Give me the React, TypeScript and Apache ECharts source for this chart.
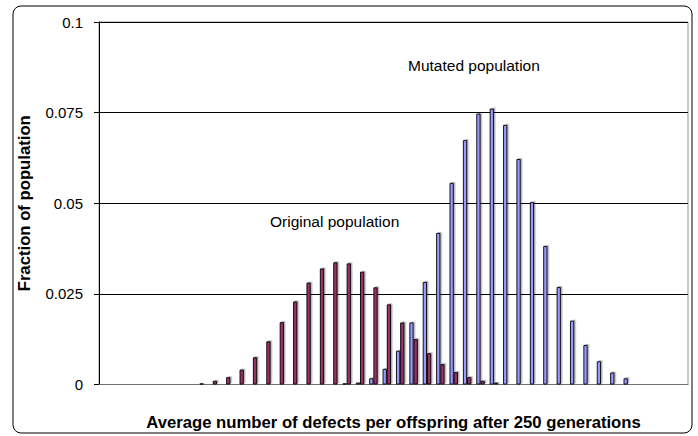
import React, { useEffect, useRef } from "react";
import * as echarts from "echarts";

// Category index (average number of defects per offspring, bins)
const categories: string[] = Array.from({ length: 44 }, (_, i) => String(i));

// Fraction of population per bin
const mutatedPopulation: number[] = [
  0, 0, 0, 0, 0, 0, 0, 0, 0, 0,
  0, 0, 0, 0, 0, 0, 0, 0, 0.0003, 0.0005,
  0.0017, 0.0043, 0.0093, 0.0171, 0.0283, 0.0418, 0.0556, 0.0674, 0.0747, 0.0761,
  0.0716, 0.0622, 0.0503, 0.0382, 0.0269, 0.0176, 0.0109, 0.0064, 0.0033, 0.0017,
  0, 0, 0, 0,
];

const originalPopulation: number[] = [
  0, 0, 0, 0, 0, 0, 0.0002, 0.0003, 0.001, 0.002,
  0.0041, 0.0075, 0.0119, 0.0172, 0.0229, 0.0281, 0.032, 0.0337, 0.0334, 0.0311,
  0.0268, 0.0221, 0.0171, 0.0125, 0.0086, 0.0056, 0.0034, 0.002, 0.001, 0.0005,
  0.0002, 0.0001, 0, 0, 0, 0, 0, 0, 0, 0,
  0, 0, 0, 0,
];

const yTicks: number[] = [0, 0.025, 0.05, 0.075, 0.1];

const FONT = "'Liberation Sans', Arial, sans-serif";

export default function App() {
  const ref = useRef<HTMLDivElement>(null);

  useEffect(() => {
    if (!ref.current) return;
    const chart = echarts.init(ref.current, undefined, { renderer: "svg" });
    const barStyle = (color: string) => ({
      color,
      borderColor: "#000",
      borderWidth: 0.9,
      shadowColor: "rgba(0,0,0,0.3)",
      shadowOffsetX: 1.5,
      shadowOffsetY: -1,
      shadowBlur: 0,
    });
    chart.setOption({
      animation: false,
      backgroundColor: "#fff",
      textStyle: { fontFamily: FONT },
      grid: {
        left: 99,
        right: 10,
        top: 22,
        bottom: 49.5,
        show: true,
        borderColor: "#909090",
        borderWidth: 1,
        backgroundColor: "transparent",
      },
      xAxis: {
        type: "category",
        data: categories,
        boundaryGap: true,
        axisLine: { show: true, lineStyle: { color: "#707070", width: 1 } },
        axisTick: { show: false },
        axisLabel: { show: false },
        splitLine: { show: false },
        name: "Average number of defects per offspring after 250 generations",
        nameLocation: "middle",
        nameGap: 29.5,
        nameTextStyle: {
          fontFamily: FONT,
          fontSize: 16.7,
          fontWeight: "bold",
          color: "#000",
        },
      },
      yAxis: {
        type: "value",
        min: yTicks[0],
        max: yTicks[yTicks.length - 1],
        interval: 0.025,
        axisLine: { show: true, lineStyle: { color: "#000", width: 1 } },
        axisTick: { show: true, length: 5, inside: false, lineStyle: { color: "#000" } },
        axisLabel: {
          margin: 16,
          fontFamily: FONT,
          fontSize: 15,
          color: "#000",
          formatter: (v: number) => String(parseFloat(v.toFixed(3))),
        },
        splitLine: { show: true, lineStyle: { color: "#000", width: 1 } },
        name: "Fraction of population",
        nameLocation: "middle",
        nameGap: 66,
        nameTextStyle: {
          fontFamily: FONT,
          fontSize: 16.7,
          fontWeight: "bold",
          color: "#000",
        },
      },
      series: [
        {
          name: "Mutated population",
          type: "bar",
          data: mutatedPopulation.map((v) => (v === 0 ? null : v)),
          barWidth: 4.2,
          barGap: "0%",
          itemStyle: barStyle("#9999FF"),
        },
        {
          name: "Original population",
          type: "bar",
          data: originalPopulation.map((v) => (v === 0 ? null : v)),
          barWidth: 4.2,
          barGap: "0%",
          itemStyle: barStyle("#993366"),
        },
      ],
      graphic: [
        {
          type: "rect",
          shape: { x: 13, y: 6, width: 679, height: 427, r: 8 },
          style: { fill: "none", stroke: "#000", lineWidth: 1 },
          silent: true,
          z: 100,
        },
        {
          type: "text",
          x: 408,
          y: 65,
          style: {
            text: "Mutated population",
            font: `15.5px ${FONT}`,
            fill: "#000",
            textAlign: "left",
            textVerticalAlign: "middle",
          },
        },
        {
          type: "text",
          x: 270,
          y: 221,
          style: {
            text: "Original population",
            font: `15.5px ${FONT}`,
            fill: "#000",
            textAlign: "left",
            textVerticalAlign: "middle",
          },
        },
      ],
    });
    return () => chart.dispose();
  }, []);

  return (
    <div
      ref={ref}
      style={{ position: "fixed", left: 0, top: 0, width: 698, height: 436 }}
    />
  );
}
